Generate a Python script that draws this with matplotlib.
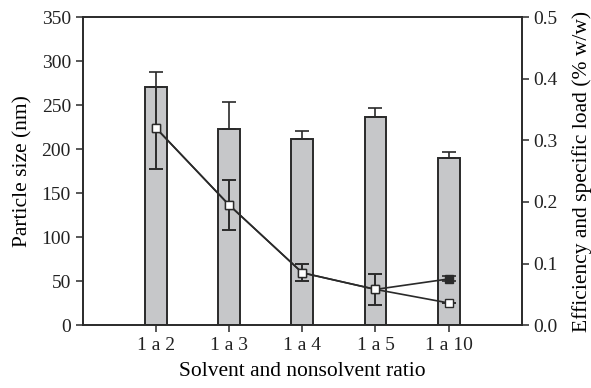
import numpy as np
import matplotlib.pyplot as plt

plt.rcParams['font.family'] = ['Liberation Serif', 'DejaVu Serif']
plt.rcParams['font.size'] = 14

ratios = ['1 a 2', '1 a 3', '1 a 4', '1 a 5', '1 a 10']
size_nm = [271, 223, 212, 236, 190]
size_err = [17, 31, 8, 11, 7]

efficiency = [0.32, 0.195, 0.085, 0.058, 0.075]
efficiency_err = [0.066, 0.04, 0.014, 0.025, 0.004]
load = [0.32, 0.195, 0.085, 0.058, 0.036]
load_err = [0.066, 0.04, 0.014, 0.025, 0.0]

dark = '#2a2a2a'
x = np.arange(1, len(ratios) + 1)

fig, ax = plt.subplots(figsize=(5.91, 3.88), dpi=100)
fig.subplots_adjust(left=0.14, right=0.883, top=0.956, bottom=0.162)

# particle size bars, only the upper error shown
ax.bar(x, size_nm, width=0.3, color='#c6c7c9', edgecolor=dark, linewidth=1.4, zorder=2)
ax.errorbar(x, size_nm, yerr=[np.zeros(len(x)), size_err], fmt='none',
            ecolor=dark, elinewidth=1.2, capsize=5, capthick=1.2, zorder=3)
ax.set_xlim(0, 6)
ax.set_ylim(0, 350)
ax.set_yticks(range(0, 351, 50))
ax.set_xticks(x)
ax.set_xticklabels(ratios)
ax.set_ylabel('Particle size (nm)', fontsize=15.5)
ax.yaxis.set_label_coords(-0.114, 0.5)
ax.set_xlabel('Solvent and nonsolvent ratio', fontsize=15.5, labelpad=6)

# efficiency (filled) and specific load (open) on the right axis
ax2 = ax.twinx()
ax2.errorbar(x, efficiency, yerr=efficiency_err, fmt='-s', color=dark,
             markerfacecolor=dark, markeredgecolor=dark, markersize=5.5,
             linewidth=1.2, elinewidth=1.2, capsize=5, capthick=1.2, zorder=3)
ax2.errorbar(x, load, yerr=load_err, fmt='-s', color=dark,
             markerfacecolor='white', markeredgecolor=dark, markersize=6,
             linewidth=1.2, elinewidth=1.2, capsize=5, capthick=1.2, zorder=4)
ax2.set_ylim(0, 0.5)
ax2.set_yticks(np.arange(0, 0.51, 0.1))
ax2.set_yticklabels([f'{v:.1f}' for v in np.arange(0, 0.51, 0.1)])
ax2.set_ylabel('Efficiency and specific load (% w/w)', fontsize=15.5)
ax2.yaxis.set_label_coords(1.114, 0.5)

for a in (ax, ax2):
    for s in a.spines.values():
        s.set_color(dark)
        s.set_linewidth(1.2)
    a.tick_params(direction='out', length=5, width=1.1, color=dark, labelcolor='#222222')

fig.savefig('out.png', dpi=100)
